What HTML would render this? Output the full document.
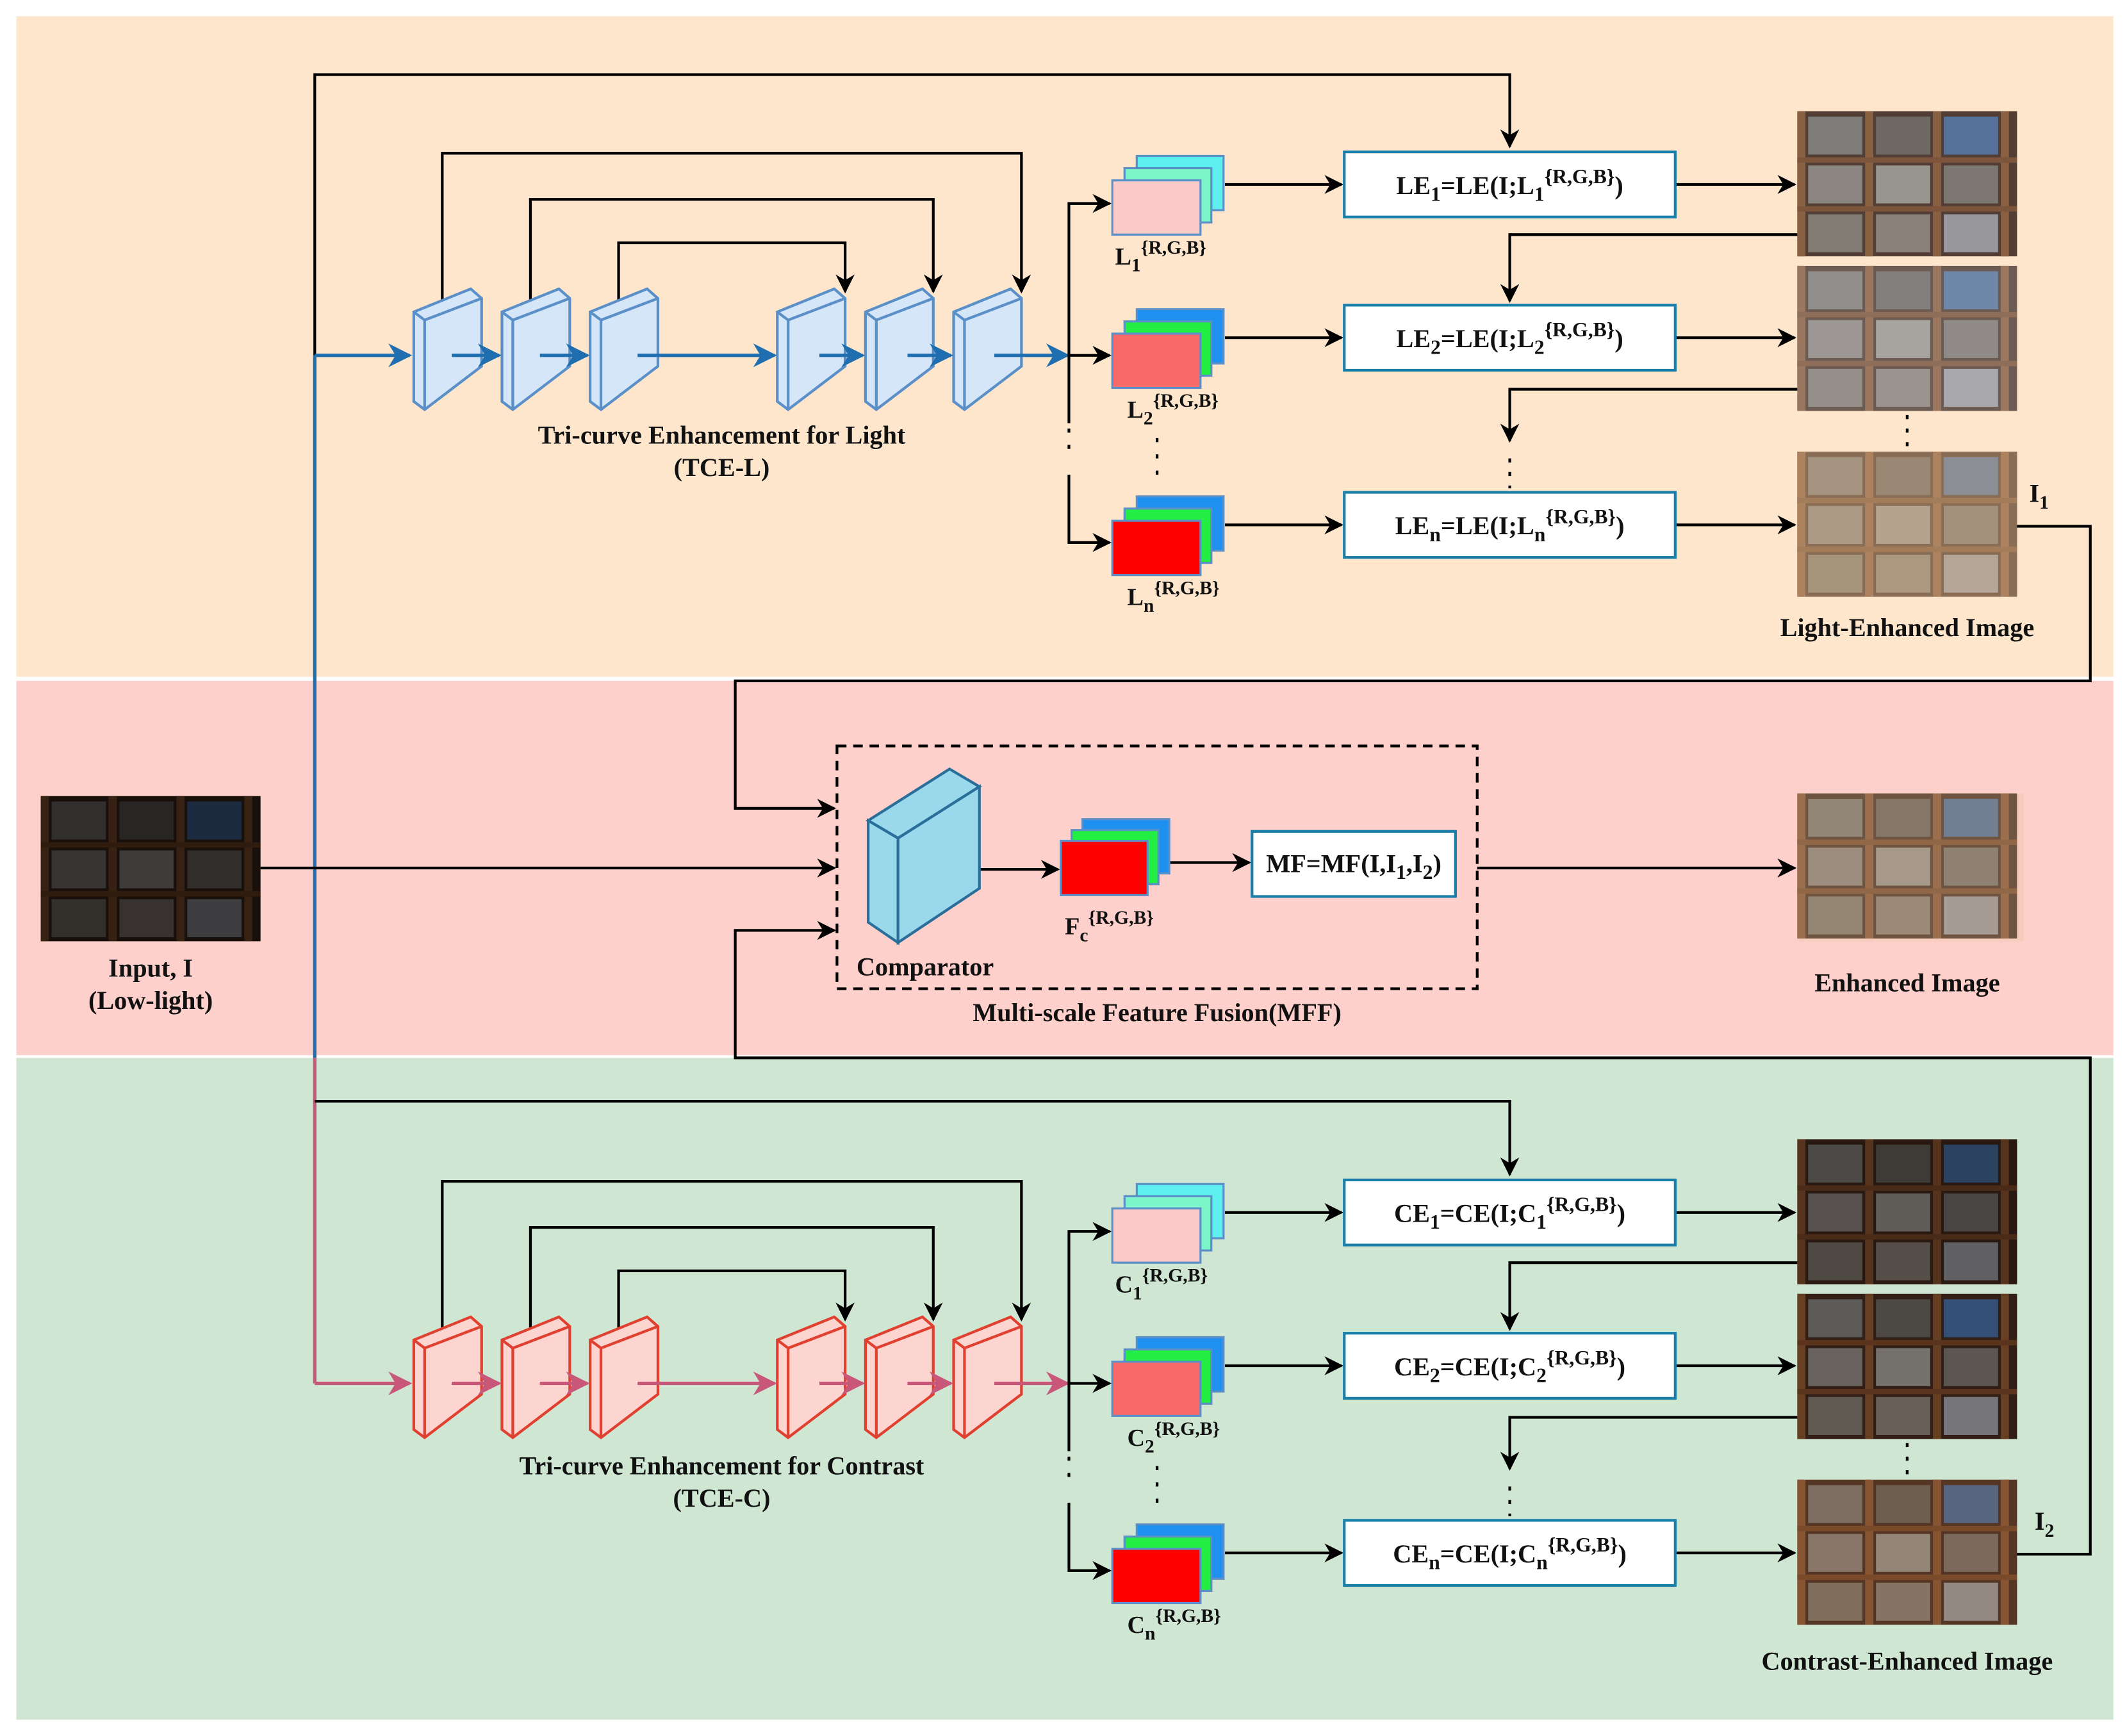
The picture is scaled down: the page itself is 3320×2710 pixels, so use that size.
<!DOCTYPE html>
<html><head><meta charset="utf-8"><style>html,body{margin:0;padding:0;background:#fff}svg{display:block}text{font-family:"Liberation Serif",serif;font-weight:bold;fill:#111}</style></head><body>
<svg width="3320" height="2710" viewBox="0 0 1568 1280" xmlns="http://www.w3.org/2000/svg">
<defs>
<marker id="ak" viewBox="0 0 10 10" refX="9" refY="5" markerWidth="7" markerHeight="7" orient="auto"><path d="M0,0L10,5L0,10L3,5z" fill="#000"/></marker>
<marker id="ab" viewBox="0 0 10 10" refX="9" refY="5" markerWidth="7" markerHeight="7" orient="auto"><path d="M0,0L10,5L0,10L3,5z" fill="#1f6fb0"/></marker>
<marker id="ap" viewBox="0 0 10 10" refX="9" refY="5" markerWidth="7" markerHeight="7" orient="auto"><path d="M0,0L10,5L0,10L3,5z" fill="#c8577a"/></marker>
<g id="sb"><polygon points="0,17 42,0 50,7 50,57 8,89 0,83" fill="#d4e6f8" stroke="#5b8fc8" stroke-width="2"/><polyline points="0,17 8,23 50,7" fill="none" stroke="#5b8fc8" stroke-width="2"/><line x1="8" y1="23" x2="8" y2="89" stroke="#5b8fc8" stroke-width="2"/></g>
<g id="sr"><polygon points="0,17 42,0 50,7 50,57 8,89 0,83" fill="#fcd4d0" stroke="#e0402f" stroke-width="2"/><polyline points="0,17 8,23 50,7" fill="none" stroke="#e0402f" stroke-width="2"/><line x1="8" y1="23" x2="8" y2="89" stroke="#e0402f" stroke-width="2"/></g>
<g id="im"><rect width="162" height="107" fill="#3b2419"/>
<rect x="0" y="0" width="6" height="107" fill="#7a4a2a"/><rect x="50" y="0" width="6" height="107" fill="#7a4a2a"/><rect x="100" y="0" width="6" height="107" fill="#7a4a2a"/><rect x="150" y="0" width="6" height="107" fill="#7a4a2a"/>
<rect x="0" y="34" width="162" height="4" fill="#6a3e22"/><rect x="0" y="70" width="162" height="4" fill="#6a3e22"/>
<rect x="8" y="4" width="40" height="28" fill="#6d6a66"/><rect x="58" y="4" width="40" height="28" fill="#5a5550"/><rect x="108" y="4" width="40" height="28" fill="#3f5f8c"/>
<rect x="8" y="40" width="40" height="28" fill="#7b7570"/><rect x="58" y="40" width="40" height="28" fill="#8a8680"/><rect x="108" y="40" width="40" height="28" fill="#6b6560"/>
<rect x="8" y="76" width="40" height="28" fill="#706a60"/><rect x="58" y="76" width="40" height="28" fill="#7a7068"/><rect x="108" y="76" width="40" height="28" fill="#8a8a90"/></g>
</defs>
<rect width="1568" height="1280" fill="#fff"/>
<rect x="12" y="12" width="1546" height="487" fill="#fde6cc"/>
<rect x="12" y="502" width="1546" height="276" fill="#fdd0cb"/>
<rect x="12" y="780" width="1546" height="488" fill="#cfe6d3"/>

<g fill="none" stroke="#000" stroke-width="2">
<polyline points="232,262 232,55 1113,55 1113,108" marker-end="url(#ak)"/>
<polyline points="326,222 326,113 753,113 753,215" marker-end="url(#ak)"/>
<polyline points="391,222 391,147 688,147 688,215" marker-end="url(#ak)"/>
<polyline points="456,222 456,179 623,179 623,215" marker-end="url(#ak)"/>
</g>
<use href="#sb" x="305" y="213"/><use href="#sb" x="370" y="213"/><use href="#sb" x="435" y="213"/><use href="#sb" x="573" y="213"/><use href="#sb" x="638" y="213"/><use href="#sb" x="703" y="213"/>
<g stroke="#1f6fb0" stroke-width="2.5" fill="none">
<line x1="232" y1="262" x2="302" y2="262" marker-end="url(#ab)"/>
<line x1="333" y1="262" x2="368" y2="262" marker-end="url(#ab)"/>
<line x1="398" y1="262" x2="433" y2="262" marker-end="url(#ab)"/>
<line x1="470" y1="262" x2="571" y2="262" marker-end="url(#ab)"/>
<line x1="604" y1="262" x2="636" y2="262" marker-end="url(#ab)"/>
<line x1="669" y1="262" x2="701" y2="262" marker-end="url(#ab)"/>
<line x1="733" y1="262" x2="787" y2="262" marker-end="url(#ab)"/>
<line x1="232" y1="262" x2="232" y2="780"/>
</g>
<line x1="232" y1="780" x2="232" y2="1020" stroke="#c8577a" stroke-width="2.5"/>
<g fill="none" stroke="#000" stroke-width="2">
<polyline points="818,150 788,150 788,312"/><polyline points="788,350 788,400 818,400" marker-end="url(#ak)"/>
<line x1="788" y1="150" x2="818" y2="150" marker-end="url(#ak)"/>
<line x1="788" y1="262" x2="818" y2="262" marker-end="url(#ak)"/>
<line x1="788" y1="316" x2="788" y2="340" stroke-dasharray="3,9"/>
<line x1="853" y1="323" x2="853" y2="352" stroke-dasharray="3,9"/>
<line x1="903" y1="136" x2="989" y2="136" marker-end="url(#ak)"/>
<line x1="903" y1="249" x2="989" y2="249" marker-end="url(#ak)"/>
<line x1="903" y1="387" x2="989" y2="387" marker-end="url(#ak)"/>
<line x1="1235" y1="136" x2="1323" y2="136" marker-end="url(#ak)"/>
<line x1="1235" y1="249" x2="1323" y2="249" marker-end="url(#ak)"/>
<line x1="1235" y1="387" x2="1323" y2="387" marker-end="url(#ak)"/>
<polyline points="1325,173 1113,173 1113,222" marker-end="url(#ak)"/>
<polyline points="1325,287 1113,287 1113,325" marker-end="url(#ak)"/>
<line x1="1113" y1="338" x2="1113" y2="360" stroke-dasharray="3,7"/>
<line x1="1406" y1="306" x2="1406" y2="330" stroke-dasharray="3,7"/>
<polyline points="1486,388 1541,388 1541,502 542,502 542,596 615,596" marker-end="url(#ak)"/>
</g>
<g stroke="#5b8fc8" stroke-width="1.5">
<rect x="838" y="115" width="64" height="40" fill="#5ef0ee"/><rect x="829" y="124" width="64" height="40" fill="#7cf5c8"/><rect x="820" y="133" width="65" height="40" fill="#f9cac8"/>
<rect x="838" y="228" width="64" height="40" fill="#1e90f0"/><rect x="829" y="237" width="64" height="40" fill="#22ee44"/><rect x="820" y="246" width="65" height="40" fill="#f86a6a"/>
<rect x="838" y="366" width="64" height="40" fill="#1e90f0"/><rect x="829" y="375" width="64" height="40" fill="#22ee44"/><rect x="820" y="384" width="65" height="40" fill="#ff0000"/>
</g>
<g font-size="18">
<text x="822" y="195">L<tspan dy="5" font-size="14">1</tspan><tspan dy="-13" font-size="14">{R,G,B}</tspan></text>
<text x="831" y="308">L<tspan dy="5" font-size="14">2</tspan><tspan dy="-13" font-size="14">{R,G,B}</tspan></text>
<text x="831" y="446">L<tspan dy="5" font-size="14">n</tspan><tspan dy="-13" font-size="14">{R,G,B}</tspan></text>
</g>
<g fill="#fff" stroke="#1a7fa8" stroke-width="2">
<rect x="991" y="112" width="244" height="48"/><rect x="991" y="225" width="244" height="48"/><rect x="991" y="363" width="244" height="48"/>
</g>
<g font-size="19" text-anchor="middle">
<text x="1113" y="143">LE<tspan dy="5" font-size="15">1</tspan><tspan dy="-5">=LE(I;L</tspan><tspan dy="5" font-size="15">1</tspan><tspan dy="-13" font-size="15">{R,G,B}</tspan><tspan dy="8">)</tspan></text>
<text x="1113" y="256">LE<tspan dy="5" font-size="15">2</tspan><tspan dy="-5">=LE(I;L</tspan><tspan dy="5" font-size="15">2</tspan><tspan dy="-13" font-size="15">{R,G,B}</tspan><tspan dy="8">)</tspan></text>
<text x="1113" y="394">LE<tspan dy="5" font-size="15">n</tspan><tspan dy="-5">=LE(I;L</tspan><tspan dy="5" font-size="15">n</tspan><tspan dy="-13" font-size="15">{R,G,B}</tspan><tspan dy="8">)</tspan></text>
<text x="532" y="327">Tri-curve Enhancement for Light</text>
<text x="532" y="351">(TCE-L)</text>
<text x="1406" y="469">Light-Enhanced Image</text>
</g>
<use href="#im" x="1325" y="82"/><rect x="1325" y="82" width="162" height="107" fill="#fff" opacity="0.12"/>
<use href="#im" x="1325" y="196"/><rect x="1325" y="196" width="162" height="107" fill="#fff" opacity="0.25"/>
<use href="#im" x="1325" y="333"/><rect x="1325" y="333" width="162" height="107" fill="#e8c8a0" opacity="0.45"/>
<text x="1496" y="370" font-size="19">I<tspan dy="5" font-size="14">1</tspan></text>

<use href="#im" x="30" y="587"/><rect x="30" y="587" width="162" height="107" fill="#000" opacity="0.55"/>
<g fill="none" stroke="#000" stroke-width="2">
<line x1="192" y1="640" x2="615" y2="640" marker-end="url(#ak)"/>
<rect x="617" y="550" width="472" height="179" stroke-dasharray="7,5"/>
<line x1="690" y1="641" x2="780" y2="641" marker-end="url(#ak)"/>
<line x1="862" y1="636" x2="921" y2="636" marker-end="url(#ak)"/>
<line x1="1089" y1="640" x2="1323" y2="640" marker-end="url(#ak)"/>
<polyline points="1486,1146 1541,1146 1541,780 542,780 542,686 615,686" marker-end="url(#ak)"/>
</g>
<g stroke="#2a6f9a" stroke-width="2" fill="#9ad9ec">
<polygon points="640,605 700,567 722,580 662,618"/><polygon points="640,605 662,618 662,695 640,680"/><polygon points="662,618 722,580 722,655 662,695"/>
</g>
<g stroke="#5b8fc8" stroke-width="1.5">
<rect x="798" y="604" width="64" height="40" fill="#1e90f0"/><rect x="790" y="612" width="64" height="40" fill="#22ee44"/><rect x="782" y="620" width="64" height="40" fill="#ff0000"/>
</g>
<rect x="923" y="613" width="150" height="48" fill="#fff" stroke="#1a7fa8" stroke-width="2"/>
<g font-size="19" text-anchor="middle">
<text x="998" y="643">MF=MF(I,I<tspan dy="5" font-size="15">1</tspan><tspan dy="-5">,I</tspan><tspan dy="5" font-size="15">2</tspan><tspan dy="-5">)</tspan></text>
<text x="111" y="720">Input, I</text><text x="111" y="744">(Low-light)</text>
<text x="682" y="719">Comparator</text>
<text x="853" y="753">Multi-scale Feature Fusion(MFF)</text>
<text x="1406" y="731">Enhanced Image</text>
</g>
<text x="785" y="689" font-size="18">F<tspan dy="5" font-size="14">c</tspan><tspan dy="-13" font-size="14">{R,G,B}</tspan></text>
<use href="#im" x="1325" y="585"/><rect x="1325" y="585" width="167" height="109" fill="#e8c8a0" opacity="0.3"/>

<g fill="none" stroke="#000" stroke-width="2">
<polyline points="232,812 1113,812 1113,866" marker-end="url(#ak)"/>
<polyline points="326,980 326,871 753,871 753,973" marker-end="url(#ak)"/>
<polyline points="391,980 391,905 688,905 688,973" marker-end="url(#ak)"/>
<polyline points="456,980 456,937 623,937 623,973" marker-end="url(#ak)"/>
</g>
<use href="#sr" x="305" y="971"/><use href="#sr" x="370" y="971"/><use href="#sr" x="435" y="971"/><use href="#sr" x="573" y="971"/><use href="#sr" x="638" y="971"/><use href="#sr" x="703" y="971"/>
<g stroke="#c8577a" stroke-width="2.5" fill="none">
<line x1="232" y1="1020" x2="302" y2="1020" marker-end="url(#ap)"/>
<line x1="333" y1="1020" x2="368" y2="1020" marker-end="url(#ap)"/>
<line x1="398" y1="1020" x2="433" y2="1020" marker-end="url(#ap)"/>
<line x1="470" y1="1020" x2="571" y2="1020" marker-end="url(#ap)"/>
<line x1="604" y1="1020" x2="636" y2="1020" marker-end="url(#ap)"/>
<line x1="669" y1="1020" x2="701" y2="1020" marker-end="url(#ap)"/>
<line x1="733" y1="1020" x2="787" y2="1020" marker-end="url(#ap)"/>
</g>
<g fill="none" stroke="#000" stroke-width="2">
<polyline points="818,908 788,908 788,1070"/><polyline points="788,1108 788,1158 818,1158" marker-end="url(#ak)"/>
<line x1="788" y1="908" x2="818" y2="908" marker-end="url(#ak)"/>
<line x1="788" y1="1020" x2="818" y2="1020" marker-end="url(#ak)"/>
<line x1="788" y1="1074" x2="788" y2="1098" stroke-dasharray="3,9"/>
<line x1="853" y1="1081" x2="853" y2="1110" stroke-dasharray="3,9"/>
<line x1="903" y1="894" x2="989" y2="894" marker-end="url(#ak)"/>
<line x1="903" y1="1007" x2="989" y2="1007" marker-end="url(#ak)"/>
<line x1="903" y1="1145" x2="989" y2="1145" marker-end="url(#ak)"/>
<line x1="1235" y1="894" x2="1323" y2="894" marker-end="url(#ak)"/>
<line x1="1235" y1="1007" x2="1323" y2="1007" marker-end="url(#ak)"/>
<line x1="1235" y1="1145" x2="1323" y2="1145" marker-end="url(#ak)"/>
<polyline points="1325,931 1113,931 1113,980" marker-end="url(#ak)"/>
<polyline points="1325,1045 1113,1045 1113,1083" marker-end="url(#ak)"/>
<line x1="1113" y1="1096" x2="1113" y2="1118" stroke-dasharray="3,7"/>
<line x1="1406" y1="1064" x2="1406" y2="1088" stroke-dasharray="3,7"/>
</g>
<g stroke="#5b8fc8" stroke-width="1.5">
<rect x="838" y="873" width="64" height="40" fill="#5ef0ee"/><rect x="829" y="882" width="64" height="40" fill="#7cf5c8"/><rect x="820" y="891" width="65" height="40" fill="#f9cac8"/>
<rect x="838" y="986" width="64" height="40" fill="#1e90f0"/><rect x="829" y="995" width="64" height="40" fill="#22ee44"/><rect x="820" y="1004" width="65" height="40" fill="#f86a6a"/>
<rect x="838" y="1124" width="64" height="40" fill="#1e90f0"/><rect x="829" y="1133" width="64" height="40" fill="#22ee44"/><rect x="820" y="1142" width="65" height="40" fill="#ff0000"/>
</g>
<g font-size="18">
<text x="822" y="953">C<tspan dy="5" font-size="14">1</tspan><tspan dy="-13" font-size="14">{R,G,B}</tspan></text>
<text x="831" y="1066">C<tspan dy="5" font-size="14">2</tspan><tspan dy="-13" font-size="14">{R,G,B}</tspan></text>
<text x="831" y="1204">C<tspan dy="5" font-size="14">n</tspan><tspan dy="-13" font-size="14">{R,G,B}</tspan></text>
</g>
<g fill="#fff" stroke="#1a7fa8" stroke-width="2">
<rect x="991" y="870" width="244" height="48"/><rect x="991" y="983" width="244" height="48"/><rect x="991" y="1121" width="244" height="48"/>
</g>
<g font-size="19" text-anchor="middle">
<text x="1113" y="901">CE<tspan dy="5" font-size="15">1</tspan><tspan dy="-5">=CE(I;C</tspan><tspan dy="5" font-size="15">1</tspan><tspan dy="-13" font-size="15">{R,G,B}</tspan><tspan dy="8">)</tspan></text>
<text x="1113" y="1014">CE<tspan dy="5" font-size="15">2</tspan><tspan dy="-5">=CE(I;C</tspan><tspan dy="5" font-size="15">2</tspan><tspan dy="-13" font-size="15">{R,G,B}</tspan><tspan dy="8">)</tspan></text>
<text x="1113" y="1152">CE<tspan dy="5" font-size="15">n</tspan><tspan dy="-5">=CE(I;C</tspan><tspan dy="5" font-size="15">n</tspan><tspan dy="-13" font-size="15">{R,G,B}</tspan><tspan dy="8">)</tspan></text>
<text x="532" y="1087">Tri-curve Enhancement for Contrast</text>
<text x="532" y="1111">(TCE-C)</text>
<text x="1406" y="1231">Contrast-Enhanced Image</text>
</g>
<use href="#im" x="1325" y="840"/><rect x="1325" y="840" width="162" height="107" fill="#000" opacity="0.3"/>
<use href="#im" x="1325" y="954"/><rect x="1325" y="954" width="162" height="107" fill="#000" opacity="0.15"/>
<use href="#im" x="1325" y="1091"/><rect x="1325" y="1091" width="162" height="107" fill="#c08050" opacity="0.2"/>
<text x="1500" y="1128" font-size="19">I<tspan dy="5" font-size="14">2</tspan></text>
</svg>
</body></html>
